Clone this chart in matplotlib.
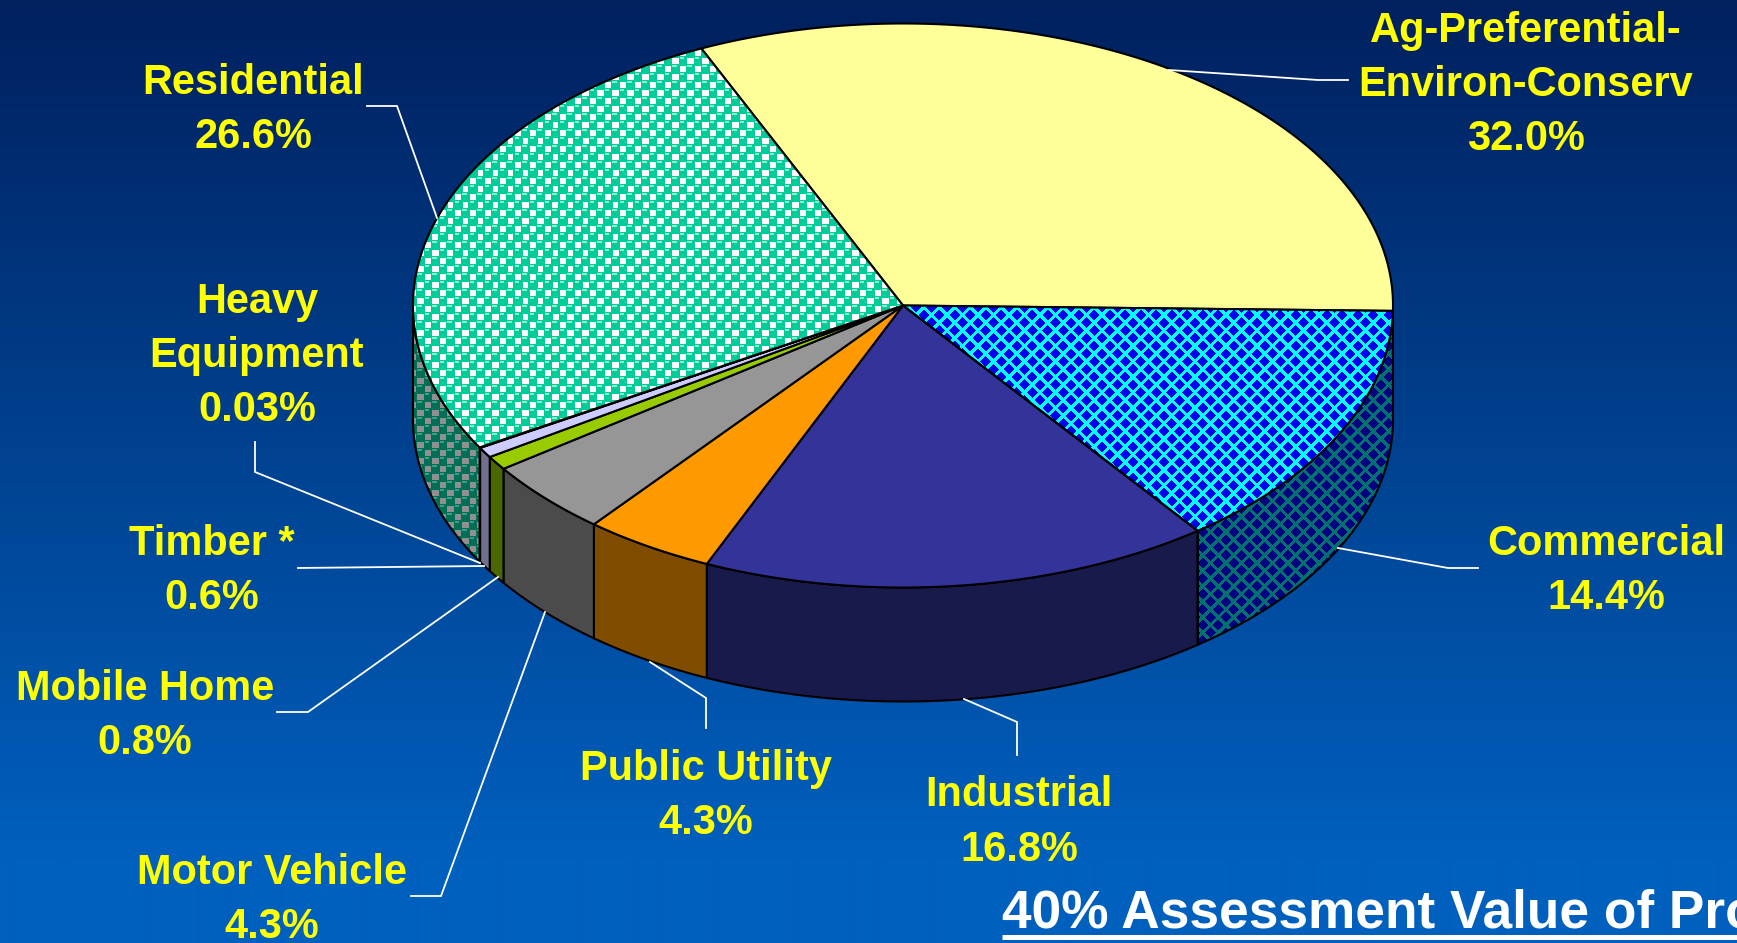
import numpy as np
import matplotlib
matplotlib.use('Agg')
import matplotlib.pyplot as plt
from matplotlib.colors import to_rgb
from matplotlib.patches import Polygon

# Slice data, clockwise from the top left
categories = ['Ag-Preferential-Environ-Conserv', 'Commercial', 'Industrial', 'Public Utility',
              'Motor Vehicle', 'Mobile Home', 'Timber *', 'Heavy Equipment', 'Residential']
values = [32.0, 14.4, 16.8, 4.3, 4.3, 0.8, 0.6, 0.03, 26.6]
top_colors = ['#FFFF99', None, '#333399', '#FF9900', '#969696', '#99CC00', '#CCCCFF', '#8A8AB0', None]
side_colors = ['#808050', None, '#191A4C', '#804C00', '#4B4B4B', '#4C6600', '#70708E', '#50506A', None]

# Label lines and where they sit (centre x, baseline y of each line)
label_lines = [['Ag-Preferential-', 'Environ-Conserv', '32.0%'], ['Commercial', '14.4%'], ['Industrial', '16.8%'],
               ['Public Utility', '4.3%'], ['Motor Vehicle', '4.3%'], ['Mobile Home', '0.8%'],
               ['Timber *', '0.6%'], ['Heavy', 'Equipment', '0.03%'], ['Residential', '26.6%']]
label_x = [1526, 1606, 1019, 706, 272, 145, 212, 257, 253]
label_y = [[42, 96, 150], [555, 609], [806, 861], [780, 834], [884, 938], [700, 754], [555, 609], [313, 367, 421],
           [94, 148]]

# Leader lines
leaders = [[(1169, 70), (1318, 80), (1348, 80)],
           [(1338, 548), (1448, 568), (1478, 568)],
           [(964, 699), (1017, 722), (1017, 755)],
           [(650, 662), (706, 698), (706, 728)],
           [(545, 612), (441, 896), (411, 896)],
           [(498, 577), (308, 712), (277, 712)],
           [(484, 566), (298, 568)],
           [(480, 563), (255, 472), (255, 442)],
           [(437, 218), (397, 106), (367, 106)]]

title = '40% Assessment Value of Pro'

W, H = 1737, 943
cx, cy, rx, ry, depth = 903, 305.5, 490, 282, 114
start_angle = 114.3

plt.rcParams['font.family'] = ['Liberation Sans', 'DejaVu Sans']

fig = plt.figure(figsize=(W / 100, H / 100), dpi=100)
ax = fig.add_axes([0, 0, 1, 1])
ax.set_xlim(0, W)
ax.set_ylim(H, 0)
ax.axis('off')

# Background gradient
ramp = np.clip(np.arange(H) / 860, 0, 1)
top_bg, bottom_bg = np.array(to_rgb('#00205E')), np.array(to_rgb('#0060BE'))
bg = top_bg + (bottom_bg - top_bg) * ramp[:, None]
ax.imshow(bg[:, None, :], extent=(0, W, H, 0), aspect='auto', zorder=0, interpolation='bilinear')

yy, xx = np.mgrid[0:H, 0:W] + 0.5


def diamond_texture(fg, bg_col):
    a = ((xx - 1171.7) + (yy - 315)) / 15.5
    b = ((xx - 1171.7) - (yy - 315)) / 15.5
    mask = np.maximum(np.abs(a - np.round(a)), np.abs(b - np.round(b))) * 15.5 < 5.5
    img = np.ones((H, W, 3)) * np.array(to_rgb(bg_col))
    img[mask] = to_rgb(fg)
    return img


def lattice_offset(x0, y0):
    a = (xx - x0) / 15 + (yy - y0) / 16
    b = (xx - x0) / 15 - (yy - y0) / 16
    da, db = a - np.round(a), b - np.round(b)
    return (da + db) * 7.5, (da - db) * 8


def ball_texture(fg, hi, gap):
    # gap squares sit between the balls, balls are offset half a cell
    img = np.ones((H, W, 3)) * np.array(to_rgb(fg))
    dx, dy = lattice_offset(533, 213)
    img[(np.abs(dx) < 3.0) & (np.abs(dy) < 3.0)] = to_rgb(gap)
    bx, by = lattice_offset(540.5, 213)
    img[(np.abs(bx + 1) < 2.2) & (np.abs(by + 3) < 0.8)] = to_rgb(hi)
    return img


textures_top = {1: diamond_texture('#0000F0', '#00FFFF'), 8: ball_texture('#00CC99', '#90EBD4', '#FFFFFF')}
textures_side = {1: diamond_texture('#000080', '#007070'), 8: ball_texture('#006F55', '#409C86', '#909090')}


def rim(a0, a1, dy=0.0):
    t = np.radians(np.linspace(a0, a1, max(int(abs(a1 - a0) * 4), 2)))
    return np.column_stack([cx + rx * np.cos(t), cy - ry * np.sin(t) + dy])


def fill_shape(pts, idx, colors, textures, z):
    if colors[idx] is not None:
        ax.add_patch(Polygon(pts, closed=True, fc=colors[idx], ec='black', lw=1.5, zorder=z))
    else:
        patch = Polygon(pts, closed=True, fc='none', ec='black', lw=1.5, zorder=z + 0.1)
        ax.add_patch(patch)
        im = ax.imshow(textures[idx], extent=(0, W, H, 0), aspect='auto', zorder=z, interpolation='nearest')
        im.set_clip_path(patch)


total = sum(values)

# side faces, only the part on the front of the disc
angle = start_angle
for i, v in enumerate(values):
    a0, a1 = angle, angle - v / total * 360
    lo, hi = max(a1, -180), min(a0, 0)
    if hi > lo:
        pts = np.vstack([rim(hi, lo), rim(lo, hi, depth)])
        fill_shape(pts, i, side_colors, textures_side, 2 + i * 0.01)
    angle = a1

# top faces
angle = start_angle
for i, v in enumerate(values):
    a0, a1 = angle, angle - v / total * 360
    pts = np.vstack([[cx, cy], rim(a0, a1)])
    fill_shape(pts, i, top_colors, textures_top, 3 + i * 0.01)
    angle = a1

for path in leaders:
    xs, ys = zip(*path)
    ax.plot(xs, ys, color='white', lw=1.3, zorder=5, solid_joinstyle='miter')

for lines, x, ys in zip(label_lines, label_x, label_y):
    for line, y in zip(lines, ys):
        ax.text(x, y, line, color='#FFFF00', fontsize=29.9, fontweight='bold', ha='center', va='baseline', zorder=6)

ax.text(1002, 928, title, color='white', fontsize=38.3, fontweight='bold', ha='left', va='baseline', zorder=6)
ax.plot([1002, W], [936.5, 936.5], color='white', lw=3.6, solid_capstyle='butt', zorder=6)

fig.savefig('out.png', dpi=100)
